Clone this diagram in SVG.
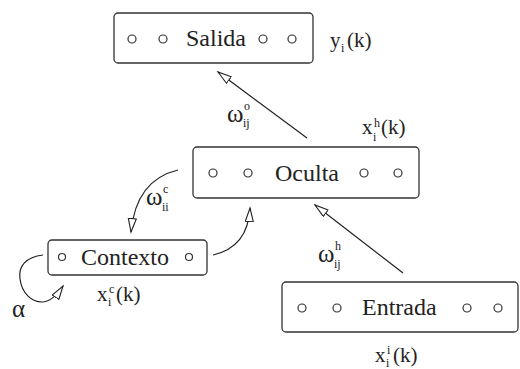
<svg xmlns="http://www.w3.org/2000/svg" width="520" height="369" viewBox="0 0 520 369">
<style>
.lbl{font-size:24px;fill:#222}
.m{font-size:21px;fill:#222}
.w{font-size:25px;fill:#222}
.s{font-size:12px;fill:#222}
.box{fill:#fff;stroke:#333;stroke-width:1.3}
.nd{fill:none;stroke:#333;stroke-width:1.2}
.c{fill:none;stroke:#222;stroke-width:1.2}
</style>
<defs>
<marker id="ah" markerUnits="userSpaceOnUse" markerWidth="16" markerHeight="10" refX="14" refY="4.5" orient="auto">
<path d="M0.5,0.5 L14,4.5 L0.5,8.5 Z" fill="#fff" stroke="#222" stroke-width="1.1"/>
</marker>
</defs>
<rect width="520" height="369" fill="#fff"/>
<g id="connectors">
<path class="c" d="M307,138 L218,72" marker-end="url(#ah)"/>
<path class="c" d="M403,273 L315,205" marker-end="url(#ah)"/>
<path class="c" d="M178,170 Q136,180 131,232" marker-end="url(#ah)"/>
<path class="c" d="M213,255 Q248,247 250,208" marker-end="url(#ah)"/>
<path class="c" d="M43,255 C26,257 18,266 20,279 C22,294 32,302 42,302 C50,302 57,295 63,286" marker-end="url(#ah)"/>
</g>
<g font-family="'Liberation Serif', 'Times New Roman', Times, serif">
<g id="salida">
<rect class="box" x="114" y="13" width="199" height="50" rx="4"/>
<circle class="nd" cx="132" cy="39" r="4"/>
<circle class="nd" cx="163" cy="39" r="4"/>
<circle class="nd" cx="263" cy="39" r="4"/>
<circle class="nd" cx="292" cy="39" r="4"/>
<text class="lbl" x="186" y="46">Salida</text>
</g>
<g id="oculta">
<rect class="box" x="193" y="147" width="226" height="51" rx="4"/>
<circle class="nd" cx="213" cy="173" r="4"/>
<circle class="nd" cx="248" cy="173" r="4"/>
<circle class="nd" cx="364" cy="173" r="4"/>
<circle class="nd" cx="398" cy="173" r="4"/>
<text class="lbl" x="275" y="181">Oculta</text>
</g>
<g id="contexto">
<rect class="box" x="48" y="240" width="159" height="35" rx="4"/>
<circle class="nd" cx="62" cy="257" r="3.5"/>
<circle class="nd" cx="189" cy="257" r="3.5"/>
<text class="lbl" x="81" y="265">Contexto</text>
</g>
<g id="entrada">
<rect class="box" x="282" y="282" width="236" height="50" rx="4"/>
<circle class="nd" cx="302" cy="308" r="4"/>
<circle class="nd" cx="337" cy="308" r="4"/>
<circle class="nd" cx="467" cy="308" r="4"/>
<circle class="nd" cx="498" cy="308" r="4"/>
<text class="lbl" x="362" y="315">Entrada</text>
</g>
<g id="labels">
<text class="m" x="330" y="47">y</text><text class="s" x="341" y="52">i</text><text class="m" x="347" y="47">(k)</text>
<text class="m" x="362" y="134">x</text><text class="s" x="374" y="127">h</text><text class="s" x="373" y="141">i</text><text class="m" x="381" y="134">(k)</text>
<text class="w" x="227" y="122">ω</text><text class="s" x="244" y="110">o</text><text class="s" x="243" y="127">ij</text>
<text class="w" x="146" y="205">ω</text><text class="s" x="163" y="193">c</text><text class="s" x="162" y="211">ii</text>
<text class="w" x="318" y="262">ω</text><text class="s" x="335" y="250">h</text><text class="s" x="334" y="268">ij</text>
<text class="m" x="97" y="301">x</text><text class="s" x="109" y="293">c</text><text class="s" x="108" y="306">i</text><text class="m" x="116" y="301">(k)</text>
<text class="m" x="375" y="362">x</text><text class="s" x="387" y="354">i</text><text class="s" x="386" y="367">i</text><text class="m" x="393" y="362">(k)</text>
<text class="w" x="12" y="317">α</text>
</g>
</g>
</svg>
